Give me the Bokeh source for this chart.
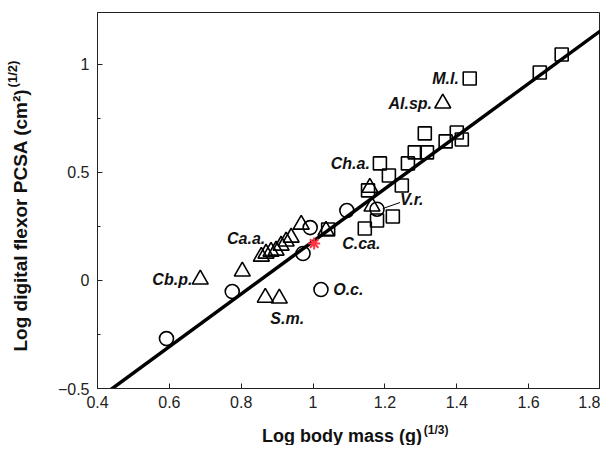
import math
from bokeh.plotting import figure
from bokeh.models import Range1d, FixedTicker, CustomJSTickFormatter, Label
from bokeh.core.properties import value
from bokeh.embed import file_html
from bokeh.resources import INLINE

# ---- data ----
circle_x = [0.592, 0.775, 0.972, 0.992, 1.022, 1.094, 1.178]
circle_y = [-0.269, -0.051, 0.125, 0.245, -0.042, 0.324, 0.330]

triangle_x = [0.686, 0.803, 0.867, 0.906, 0.856, 0.869, 0.883, 0.897, 0.911,
              0.925, 0.939, 0.967, 1.036, 1.158, 1.164, 1.361]
triangle_y = [0.005, 0.042, -0.079, -0.083, 0.111, 0.125, 0.134, 0.139, 0.162,
              0.181, 0.199, 0.259, 0.231, 0.430, 0.343, 0.820]

square_x = [1.042, 1.144, 1.178, 1.222, 1.153, 1.247, 1.211, 1.186, 1.264,
            1.283, 1.317, 1.311, 1.369, 1.400, 1.414, 1.436, 1.631, 1.692]
square_y = [0.236, 0.241, 0.278, 0.296, 0.417, 0.440, 0.486, 0.542, 0.542,
            0.593, 0.593, 0.681, 0.644, 0.685, 0.653, 0.935, 0.963, 1.046]

star_x = [1.003]
star_y = [0.171]

fit_x = [0.40, 1.80]
fit_y = [-0.550, 1.156]

label_right_text = ["M.l.", "Al.sp.", "Ch.a.", "Ca.a.", "Cb.p."]
label_right_x = [1.406, 1.331, 1.158, 0.867, 0.664]
label_right_y = [0.935, 0.819, 0.542, 0.194, 0.005]

label_left_text = ["V.r.", "C.ca.", "O.c.", "S.m."]
label_left_x = [1.242, 1.081, 1.056, 0.881]
label_left_y = [0.375, 0.171, -0.042, -0.176]

leader_x = [1.194, 1.242]
leader_y = [0.333, 0.361]

x_ticks = [0.4, 0.6, 0.8, 1.0, 1.2, 1.4, 1.6, 1.8]
y_ticks = [-0.5, 0.0, 0.5, 1.0]
y_minor = [-0.25, 0.25, 0.75]

FONT = "Liberation Sans"

p = figure(width=600, height=445, output_backend="svg", toolbar_location=None,
           x_range=Range1d(0.4, 1.8), y_range=Range1d(-0.5, 1.2407),
           min_border_left=97, min_border_right=0, min_border_top=12,
           min_border_bottom=57)
p.background_fill_color = "white"
p.border_fill_color = "white"
p.grid.visible = False
p.outline_line_color = "#222222"
p.outline_line_width = 1

fmt = CustomJSTickFormatter(code="var s = String(Math.round(tick*100)/100); return s.replace('-', '\\u2212');")

p.xaxis.ticker = FixedTicker(ticks=x_ticks, minor_ticks=[])
p.yaxis.ticker = FixedTicker(ticks=y_ticks, minor_ticks=y_minor)
for ax in (p.xaxis[0], p.yaxis[0]):
    ax.formatter = fmt
    ax.major_tick_in = 5
    ax.major_tick_out = 0
    ax.minor_tick_in = 3
    ax.minor_tick_out = 0
    ax.axis_line_color = "#222222"
    ax.major_tick_line_color = "#222222"
    ax.minor_tick_line_color = "#222222"
    ax.major_label_text_font = FONT
    ax.major_label_text_font_size = "16px"
    ax.major_label_text_color = "#222222"
p.xaxis.major_label_standoff = 7
p.yaxis.major_label_standoff = 8

# regression line
p.line(fit_x, fit_y, line_color="black", line_width=3.5)

# markers
p.scatter(circle_x, circle_y, marker="circle", size=14, fill_alpha=0,
          line_color="black", line_width=1.6)
p.scatter(triangle_x, triangle_y, marker="triangle", size=16, fill_alpha=0,
          line_color="black", line_width=1.6)
p.scatter(square_x, square_y, marker="square", size=13, fill_alpha=0,
          line_color="black", line_width=1.6)
p.scatter(star_x, star_y, marker="asterisk", size=12, line_color="#ff3344",
          line_width=2)

# leader line
p.line(leader_x, leader_y, line_color="black", line_width=1)

# species labels
p.text(label_right_x, label_right_y, text=label_right_text, text_align="right",
       text_baseline="middle", text_font=value(FONT), text_font_style="bold italic",
       text_font_size="16px", text_color="#111111")
p.text(label_left_x, label_left_y, text=label_left_text, text_align="left",
       text_baseline="middle", text_font=value(FONT), text_font_style="bold italic",
       text_font_size="16px", text_color="#111111")

# axis titles built from pieces (for superscripts), placed in side panels
def lab(side, x, y, t, size, angle=0.0):
    p.add_layout(Label(x=x, y=y, text=t,
                       text_font=FONT, text_font_style="bold",
                       text_font_size=size, text_color="#111111",
                       angle=angle, text_align="left", text_baseline="alphabetic"),
                 side)

# x title
lab("below", 0.858, -0.7222, "Log body mass (g)", "18px")
lab("below", 1.3083, -0.690, "(1/3)", "12px")

# y title (rotated)
ang = math.pi / 2
lab("left", 0.186, -0.329, "Log digital flexor PCSA (cm\u00b2)", "19px", ang)
lab("left", 0.164, 0.894, "(1/2)", "13px", ang)

open("out.html", "w").write(file_html(p, INLINE))
